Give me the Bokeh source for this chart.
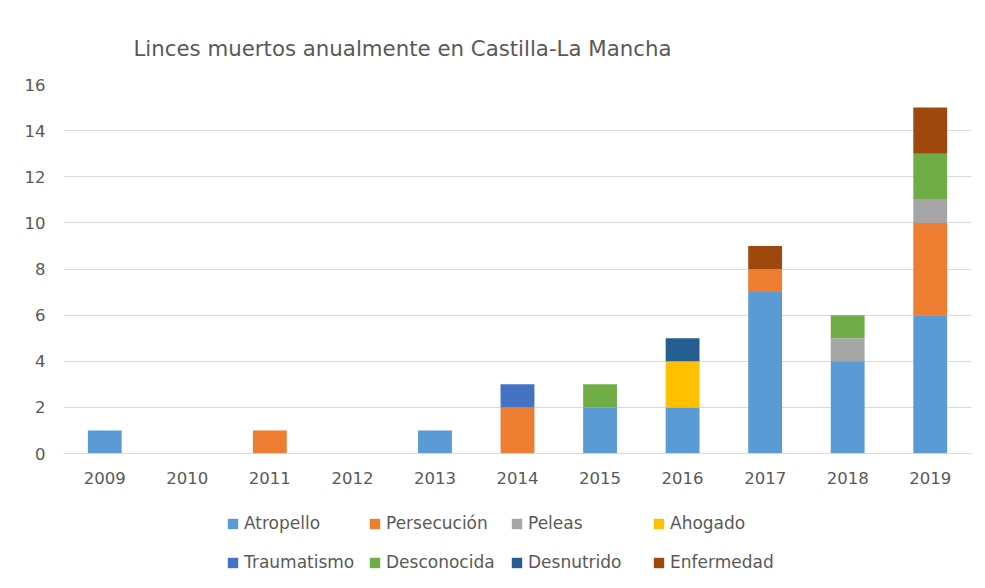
from bokeh.plotting import figure
from bokeh.layouts import column
from bokeh.models import Range1d, Legend, LegendItem, FixedTicker, ColumnDataSource
from bokeh.embed import file_html
from bokeh.resources import INLINE

years = ["2009", "2010", "2011", "2012", "2013", "2014", "2015", "2016", "2017", "2018", "2019"]
causes = ["Atropello", "Persecución", "Peleas", "Ahogado", "Traumatismo", "Desconocida", "Desnutrido", "Enfermedad"]
colors = ["#5B9BD5", "#ED7D31", "#A5A5A5", "#FFC000", "#4472C4", "#70AD47", "#255E91", "#9E480E"]

atropello   = [1, 0, 0, 0, 1, 0, 2, 2, 7, 4, 6]
persecucion = [0, 0, 1, 0, 0, 2, 0, 0, 1, 0, 4]
peleas      = [0, 0, 0, 0, 0, 0, 0, 0, 0, 1, 1]
ahogado     = [0, 0, 0, 0, 0, 0, 0, 2, 0, 0, 0]
traumatismo = [0, 0, 0, 0, 0, 1, 0, 0, 0, 0, 0]
desconocida = [0, 0, 0, 0, 0, 0, 1, 0, 0, 1, 2]
desnutrido  = [0, 0, 0, 0, 0, 0, 0, 1, 0, 0, 0]
enfermedad  = [0, 0, 0, 0, 0, 0, 0, 0, 1, 0, 2]

y_ticks = [0, 2, 4, 6, 8, 10, 12, 14, 16]

data = {"year": years}
for name, vals in zip(causes, [atropello, persecucion, peleas, ahogado, traumatismo,
                               desconocida, desnutrido, enfermedad]):
    data[name] = vals
source = ColumnDataSource(data)

FONT = "DejaVu Sans"
TXT = "#595959"

p = figure(x_range=years, y_range=Range1d(0, 16),
           frame_width=908, frame_height=369,
           output_backend="svg", toolbar_location=None,
           title="Linces muertos anualmente en Castilla-La Mancha",
           min_border_left=63, min_border_right=6, min_border_top=84, min_border_bottom=40)

renderers = p.vbar_stack(causes, x="year", width=0.41, color=colors, source=source,
                         line_color=None)

p.title.text_font = FONT
p.title.text_font_size = "21.3px"
p.title.text_font_style = "normal"
p.title.text_color = TXT
p.title.align = "left"
p.title.offset = 70
p.title.standoff = 48

p.outline_line_color = None
p.background_fill_color = "white"
p.border_fill_color = "white"

p.xgrid.grid_line_color = None
p.ygrid.grid_line_color = "#D9D9D9"
p.ygrid.grid_line_width = 1
p.yaxis.ticker = FixedTicker(ticks=y_ticks)

for ax in (p.xaxis[0], p.yaxis[0]):
    ax.major_tick_line_color = None
    ax.minor_tick_line_color = None
    ax.major_tick_out = 0
    ax.major_tick_in = 0
    ax.major_label_text_font = FONT
    ax.major_label_text_font_size = "16.5px"
    ax.major_label_text_color = TXT
p.yaxis.axis_line_color = None
p.xaxis.axis_line_color = "#D9D9D9"
p.yaxis.major_label_standoff = 18
p.xaxis.major_label_standoff = 18

# Legend strip below the chart (its frame is aligned with the chart frame)
q = figure(width=977, height=87, output_backend="svg", toolbar_location=None,
           x_range=Range1d(0, 1), y_range=Range1d(0, 1),
           x_axis_location=None, y_axis_location=None,
           min_border_left=0, min_border_right=0, min_border_top=0, min_border_bottom=0)
q.grid.grid_line_color = None
q.outline_line_color = None
q.border_fill_color = "white"
# legend-key renderers: a zero-height bar outside the visible range
leg_renderers = [q.vbar(x=[-5], top=[0], width=0.41, color=c, line_color=None) for c in colors]

items = [LegendItem(label=c, renderers=[r], index=0) for c, r in zip(causes, leg_renderers)]
legend_style = dict(orientation="horizontal",
                    label_text_font=FONT, label_text_font_size="17px", label_text_color=TXT,
                    glyph_width=13, glyph_height=13, label_standoff=5, spacing=4,
                    label_width=120, label_height=20, padding=0, margin=0,
                    border_line_color=None, background_fill_alpha=0)
legend1 = Legend(items=items[:4], location=(163, 47), **legend_style)
legend2 = Legend(items=items[4:], location=(163, 8), **legend_style)
q.add_layout(legend1)
q.add_layout(legend2)

layout = column(p, q, spacing=0)
open("out.html", "w").write(file_html(layout, INLINE))
